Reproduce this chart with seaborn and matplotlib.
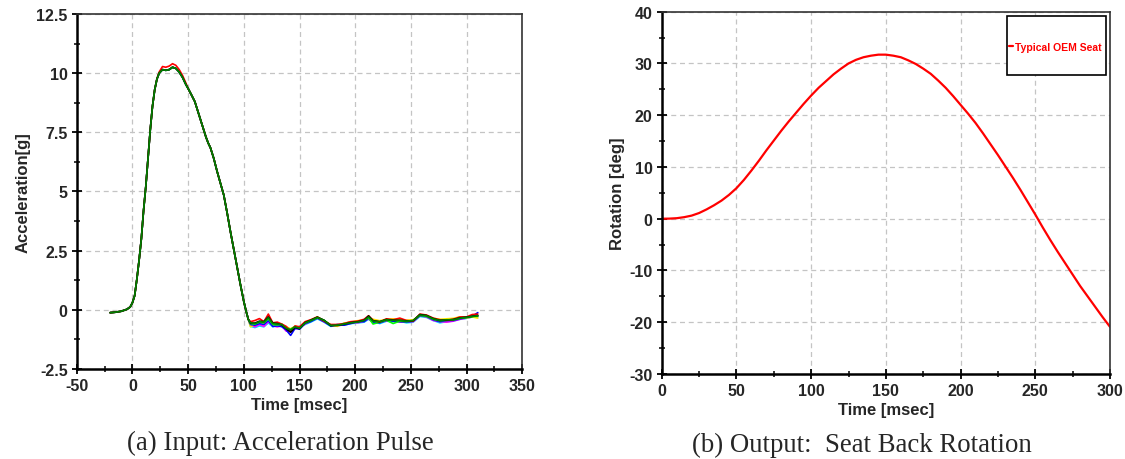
import numpy as np
import pandas as pd
import matplotlib
matplotlib.use("Agg")
import matplotlib.pyplot as plt
import matplotlib.ticker as mticker
from matplotlib.patches import Rectangle
import seaborn as sns

# ---- (a) acceleration pulse, several runs ----
rise_t = [-20, -15, -10, -5, -2, 0, 2, 4, 6, 8, 10, 12, 14, 16, 18, 20, 22]
rise_g = [-0.12, -0.10, -0.06, 0.02, 0.12, 0.30, 0.60, 1.30, 2.10, 3.00, 4.20,
          5.20, 6.40, 7.60, 8.60, 9.30, 9.75]
peak_t = [24, 27, 30, 33, 36, 39, 42, 45, 48]
peak_low = [10.00, 10.15, 10.12, 10.15, 10.25, 10.20, 10.05, 9.82, 9.52]
peak_high = [10.05, 10.28, 10.25, 10.30, 10.40, 10.33, 10.15, 9.90, 9.58]
fall_t = [50, 53, 56, 60, 64, 66, 68, 70, 73, 76, 79, 82, 85, 88, 91, 94, 97,
          100, 102, 104]
fall_g = [9.35, 9.08, 8.80, 8.20, 7.60, 7.30, 7.05, 6.85, 6.40, 5.85, 5.35,
          4.85, 4.10, 3.30, 2.55, 1.80, 1.05, 0.35, -0.05, -0.40]
tail_t = [106, 110, 114, 118, 122, 126, 130, 134, 138, 142, 146, 150, 155, 160,
          166, 172, 178, 184, 190, 196, 202, 208, 212, 216, 222, 228, 234, 240,
          246, 252, 258, 264, 270, 276, 282, 288, 294, 300, 305, 310]

tail_green = [-0.55, -0.58, -0.50, -0.52, -0.33, -0.58, -0.60, -0.62, -0.78, -0.85,
              -0.72, -0.78, -0.55, -0.45, -0.32, -0.45, -0.66, -0.65, -0.60, -0.55,
              -0.52, -0.45, -0.30, -0.48, -0.50, -0.42, -0.45, -0.45, -0.48, -0.45,
              -0.22, -0.25, -0.38, -0.45, -0.42, -0.42, -0.35, -0.32, -0.28, -0.25]
tail_red = [-0.50, -0.45, -0.37, -0.50, -0.18, -0.55, -0.52, -0.60, -0.70, -0.90,
            -0.68, -0.72, -0.50, -0.42, -0.30, -0.48, -0.62, -0.62, -0.58, -0.50,
            -0.48, -0.40, -0.25, -0.45, -0.52, -0.38, -0.42, -0.35, -0.45, -0.48,
            -0.18, -0.22, -0.35, -0.42, -0.45, -0.40, -0.30, -0.30, -0.20, -0.18]
tail_blue = [-0.62, -0.65, -0.58, -0.62, -0.45, -0.70, -0.68, -0.70, -0.85, -1.08,
             -0.78, -0.82, -0.58, -0.50, -0.35, -0.50, -0.68, -0.62, -0.65, -0.58,
             -0.50, -0.50, -0.35, -0.52, -0.55, -0.45, -0.48, -0.50, -0.52, -0.48,
             -0.25, -0.28, -0.42, -0.50, -0.45, -0.45, -0.38, -0.32, -0.28, -0.12]
tail_magenta = [-0.65, -0.72, -0.62, -0.70, -0.50, -0.68, -0.72, -0.68, -0.90, -0.92,
                -0.80, -0.75, -0.60, -0.48, -0.35, -0.50, -0.65, -0.68, -0.62, -0.52,
                -0.55, -0.48, -0.38, -0.55, -0.50, -0.48, -0.45, -0.52, -0.50, -0.50,
                -0.25, -0.30, -0.45, -0.50, -0.52, -0.48, -0.40, -0.35, -0.30, -0.28]
tail_cyan = [-0.70, -0.75, -0.68, -0.72, -0.55, -0.72, -0.65, -0.72, -0.82, -0.88,
             -0.75, -0.70, -0.62, -0.52, -0.38, -0.52, -0.70, -0.66, -0.64, -0.58,
             -0.56, -0.52, -0.40, -0.50, -0.58, -0.48, -0.50, -0.48, -0.55, -0.52,
             -0.28, -0.32, -0.45, -0.55, -0.50, -0.47, -0.40, -0.36, -0.30, -0.30]
tail_yellow = [-0.72, -0.62, -0.55, -0.58, -0.40, -0.62, -0.58, -0.66, -0.72, -0.80,
               -0.70, -0.74, -0.52, -0.44, -0.30, -0.46, -0.64, -0.70, -0.56, -0.52,
               -0.46, -0.44, -0.33, -0.40, -0.46, -0.40, -0.38, -0.42, -0.44, -0.42,
               -0.24, -0.28, -0.36, -0.40, -0.38, -0.36, -0.30, -0.34, -0.30, -0.35]
tail_lime = [-0.58, -0.60, -0.52, -0.55, -0.38, -0.62, -0.64, -0.60, -0.76, -0.82,
             -0.70, -0.76, -0.56, -0.46, -0.34, -0.44, -0.65, -0.64, -0.58, -0.52,
             -0.50, -0.42, -0.34, -0.60, -0.52, -0.44, -0.58, -0.48, -0.50, -0.46,
             -0.23, -0.27, -0.40, -0.46, -0.44, -0.43, -0.36, -0.33, -0.29, -0.27]
tail_black = [-0.56, -0.56, -0.48, -0.50, -0.30, -0.56, -0.58, -0.64, -0.80, -0.95,
              -0.74, -0.80, -0.54, -0.44, -0.31, -0.44, -0.67, -0.66, -0.61, -0.54,
              -0.51, -0.44, -0.26, -0.46, -0.50, -0.41, -0.44, -0.44, -0.47, -0.46,
              -0.20, -0.24, -0.37, -0.45, -0.43, -0.41, -0.34, -0.31, -0.27, -0.24]

run_names = ["cyan", "magenta", "yellow", "blue", "lime", "red", "black", "green"]
run_colors = {"cyan": "#00e5ff", "magenta": "#ff00ff", "yellow": "#ffe800",
              "blue": "#0000ff", "lime": "#00ff00", "red": "#ff0000",
              "black": "#000000", "green": "#008000"}
run_tails = {"cyan": tail_cyan, "magenta": tail_magenta, "yellow": tail_yellow,
             "blue": tail_blue, "lime": tail_lime, "red": tail_red,
             "black": tail_black, "green": tail_green}

# ---- (b) seat back rotation ----
rot_t = [0, 5, 10, 15, 20, 25, 30, 35, 40, 45, 50, 55, 60, 65, 70, 75, 80, 85,
         90, 95, 100, 105, 110, 115, 120, 125, 130, 135, 140, 145, 150, 155, 160,
         165, 170, 175, 180, 185, 190, 195, 200, 205, 210, 215, 220, 225, 230,
         235, 240, 245, 250, 255, 260, 265, 270, 275, 280, 285, 290, 295, 300]
rot_deg = [0.0, 0.02, 0.1, 0.3, 0.6, 1.1, 1.8, 2.6, 3.5, 4.6, 5.9, 7.5, 9.3,
           11.2, 13.2, 15.1, 17.0, 18.8, 20.5, 22.2, 23.8, 25.3, 26.6, 27.9,
           29.0, 30.0, 30.7, 31.2, 31.5, 31.7, 31.7, 31.5, 31.2, 30.6, 29.9,
           29.0, 28.0, 26.7, 25.3, 23.7, 22.0, 20.3, 18.5, 16.5, 14.4, 12.3,
           10.1, 7.9, 5.6, 3.2, 0.8, -1.7, -4.1, -6.4, -8.6, -10.8, -13.0,
           -15.0, -17.0, -19.0, -20.9]

rows = []
for name in run_names:
    peak = peak_high if name == "red" else peak_low
    times = rise_t + peak_t + fall_t + tail_t
    vals = rise_g + peak + fall_g + run_tails[name]
    for t, v in zip(times, vals):
        rows.append((name, t, v))
df_acc = pd.DataFrame(rows, columns=["run", "time", "accel"])
df_rot = pd.DataFrame({"time": rot_t, "rotation": rot_deg})

sns.set_theme(style="white")
plt.rcParams["font.family"] = ["Liberation Sans", "DejaVu Sans"]
plt.rcParams["axes.unicode_minus"] = False

fig = plt.figure(figsize=(11.25, 4.6), dpi=100)
ax1 = fig.add_axes([0.0682, 0.1957, 0.3961, 0.7717])
ax2 = fig.add_axes([0.5882, 0.1848, 0.3985, 0.7876])

sns.lineplot(data=df_acc, x="time", y="accel", hue="run", hue_order=run_names,
             palette=run_colors, estimator=None, sort=False, linewidth=1.2,
             legend=False, ax=ax1)
sns.lineplot(data=df_rot, x="time", y="rotation", color="#ff0000",
             linewidth=1.6, label="Typical OEM Seat", ax=ax2)


def style_axes(ax, xlim, xmaj, ylim, ymaj):
    ax.set_xlim(*xlim)
    ax.set_ylim(*ylim)
    ax.xaxis.set_major_locator(mticker.MultipleLocator(xmaj))
    ax.xaxis.set_minor_locator(mticker.MultipleLocator(xmaj / 2))
    ax.yaxis.set_major_locator(mticker.MultipleLocator(ymaj))
    ax.yaxis.set_minor_locator(mticker.MultipleLocator(ymaj / 2))
    ax.xaxis.set_major_formatter(mticker.FormatStrFormatter("%g"))
    ax.yaxis.set_major_formatter(mticker.FormatStrFormatter("%g"))
    ax.grid(True, which="major", color="#c4c4c4", linestyle=(0, (4, 3)),
            linewidth=0.9)
    ax.set_axisbelow(True)
    ax.tick_params(which="major", direction="inout", length=7, width=1.3,
                   color="black", labelsize=11.5, pad=3, bottom=True, left=True)
    ax.tick_params(which="minor", direction="inout", length=5, width=1.1,
                   color="black", bottom=True, left=True)
    for lab in ax.get_xticklabels() + ax.get_yticklabels():
        lab.set_fontweight("bold")
    for side in ["left", "bottom"]:
        ax.spines[side].set_linewidth(1.8)
        ax.spines[side].set_color("black")
    for side in ["top", "right"]:
        ax.spines[side].set_linewidth(1.2)
        ax.spines[side].set_color("#333333")
    ax.set_xlabel("Time [msec]", fontsize=12, fontweight="bold", labelpad=3)


style_axes(ax1, (-50, 350), 50, (-2.5, 12.5), 2.5)
style_axes(ax2, (0, 300), 50, (-30, 40), 10)
ax1.set_ylabel("Acceleration[g]", fontsize=12, fontweight="bold", labelpad=4)
ax2.set_ylabel("Rotation [deg]", fontsize=12, fontweight="bold", labelpad=3)

box = Rectangle((0.770, 0.824), 0.220, 0.163, transform=ax2.transAxes,
                facecolor="white", edgecolor="black", linewidth=1.2, zorder=4)
ax2.add_patch(box)
leg = ax2.legend(loc="center left", bbox_to_anchor=(0.774, 0.903),
                 frameon=False, borderpad=0, borderaxespad=0, handlelength=0.45,
                 handletextpad=0.2, prop={"size": 7.5, "weight": "bold"})
leg.set_zorder(5)
for txt in leg.get_texts():
    txt.set_color("#ff0000")

fig.text(0.249, 1 - 443 / 460, "(a) Input: Acceleration Pulse",
         family=["Liberation Serif", "DejaVu Serif"], fontsize=19.3,
         ha="center", va="center")
fig.text(0.766, 1 - 445 / 460, "(b) Output:  Seat Back Rotation",
         family=["Liberation Serif", "DejaVu Serif"], fontsize=19.3,
         ha="center", va="center")

fig.savefig("out.png", dpi=100)
